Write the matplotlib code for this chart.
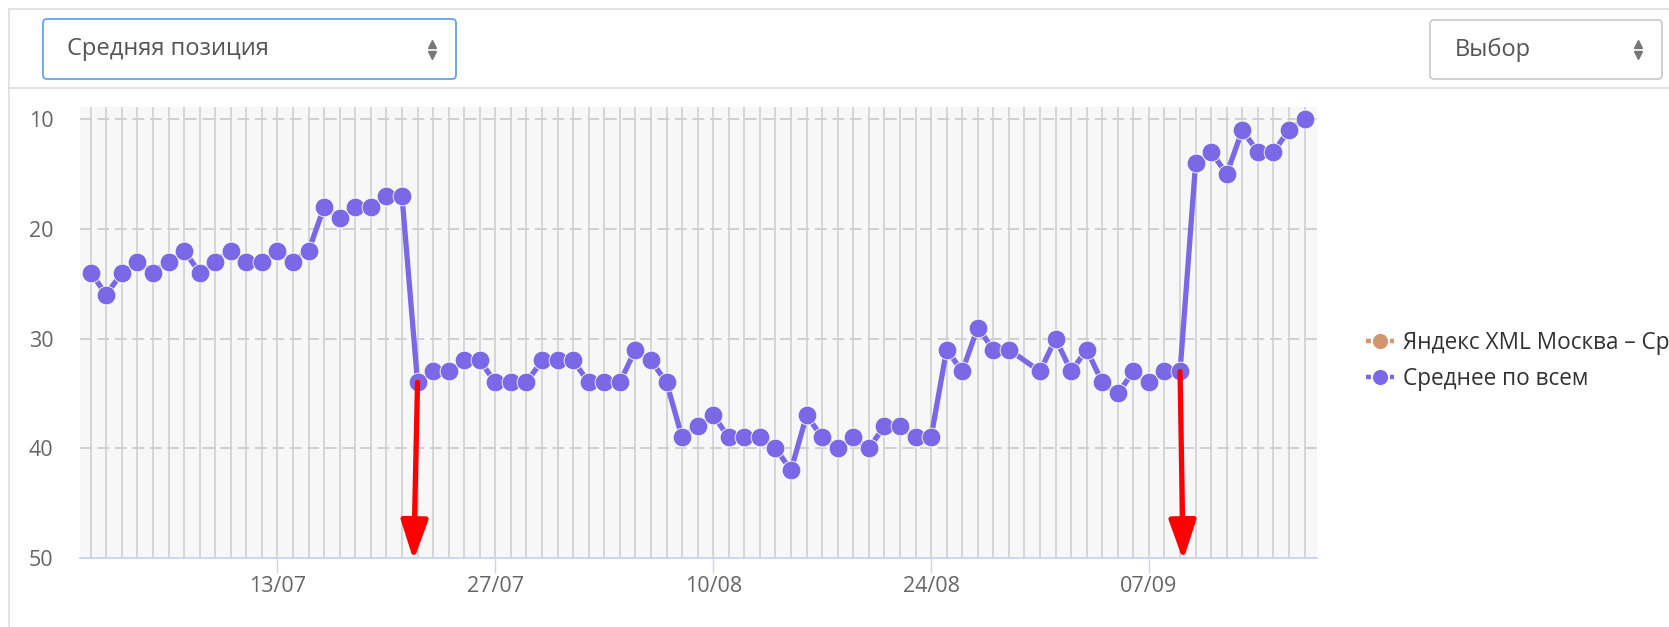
import matplotlib
matplotlib.use('Agg')
import matplotlib.pyplot as plt
import matplotlib.dates as mdates
from matplotlib.lines import Line2D
from matplotlib.patches import FancyBboxPatch
from matplotlib.transforms import IdentityTransform
from matplotlib.ticker import FixedLocator
import pandas as pd

plt.rcParams['font.family'] = ['Open Sans', 'DejaVu Sans']

W, H = 1669, 627

# данные: ежедневно 01/07 - 17/09, за 30/08 значения нет
dates = pd.date_range('2019-07-01', '2019-09-17', freq='D')
dates = dates[dates != pd.Timestamp('2019-08-30')]
avg_pos = [24, 26, 24, 23, 24, 23, 22, 24, 23, 22, 23, 23, 22, 23, 22,
           18, 19, 18, 18, 17, 17,
           34, 33, 33, 32, 32, 34, 34, 34, 32, 32, 32, 34, 34, 34, 31, 32, 34,
           39, 38, 37, 39, 39, 39, 40, 42, 37, 39, 40, 39, 40, 38, 38, 39, 39,
           31, 33, 29, 31, 31, 33, 30, 33, 31, 34, 35, 33, 34, 33, 33,
           14, 13, 15, 11, 13, 13, 11, 10]
tick_dates = pd.to_datetime(['2019-07-13', '2019-07-27', '2019-08-10',
                             '2019-08-24', '2019-09-07'])
y_ticks = [10, 20, 30, 40, 50]
# подпись первой серии в оригинале обрезана краем окна
series_names = ['Яндекс XML Москва – Ср', 'Среднее по всем']
series_colors = ['#d39470', '#7b68e6']
arrow_dates = pd.to_datetime(['2019-07-22', '2019-09-09'])
arrow_shift = [-0.25, 0.2]

fig = plt.figure(figsize=(W / 100, H / 100), dpi=100)
fig.patch.set_facecolor('white')

# рамка панели и шапка
px = IdentityTransform()
for xs, ys in [([9, W], [H - 9, H - 9]), ([9, 9], [0, H - 9]), ([9, W], [H - 88, H - 88])]:
    fig.add_artist(Line2D(xs, ys, transform=px, color='#dddddd', lw=1.2))


def dropdown(x0, y0, x1, y1, ec, label, tx, ax_x):
    fig.add_artist(FancyBboxPatch((x0, H - y1), x1 - x0, y1 - y0,
                                  boxstyle='round,pad=0,rounding_size=4',
                                  transform=px, fc='white', ec=ec, lw=1.3))
    fig.text(tx / W, 1 - (y0 + y1) / 2 / H, label, fontsize=17, color='#555555',
             va='center', ha='left')
    fig.add_artist(Line2D([ax_x], [H - 44], transform=px, marker='^', ms=5.5,
                          color='#777777', lw=0))
    fig.add_artist(Line2D([ax_x], [H - 55], transform=px, marker='v', ms=5.5,
                          color='#777777', lw=0))


dropdown(43, 19, 456, 79, '#66a3e8', 'Средняя позиция', 67, 432)
dropdown(1430, 20, 1662, 79, '#cccccc', 'Выбор', 1455, 1638)

ax = fig.add_axes([80 / W, 1 - 558 / H, (1317 - 80) / W, (558 - 107) / H])
ax.set_facecolor('#f7f7f7')

d0 = mdates.date2num(dates[0])
ax.set_xlim(d0 - 0.69, d0 + 78.8)
ax.set_ylim(50, 8.9)

ax.plot([], [], color=series_colors[0], lw=3, marker='o', ms=13.5, mec='white', mew=0.6)
ax.plot(dates, avg_pos, color=series_colors[1], lw=3.8, marker='o', ms=13.5,
        mfc=series_colors[1], mec='white', mew=0.6, zorder=3, clip_on=False)

for d, s in zip(arrow_dates, arrow_shift):
    v = avg_pos[list(dates).index(d)]
    x = mdates.date2num(d)
    ax.annotate('', xy=(x + s, 50.2), xytext=(x, v), annotation_clip=False,
                arrowprops=dict(arrowstyle='-|>,head_length=1.6,head_width=0.55',
                                mutation_scale=15, color='#ff0000', lw=3.8,
                                shrinkA=0, shrinkB=0), zorder=4)

ax.xaxis.set_major_locator(FixedLocator(mdates.date2num(tick_dates)))
ax.xaxis.set_minor_locator(mdates.DayLocator())
ax.xaxis.set_major_formatter(mdates.DateFormatter('%d/%m'))
ax.set_yticks(y_ticks)

ax.set_axisbelow(True)
ax.grid(True, which='both', axis='x', color='#d6d6d6', lw=1.4)
ax.grid(True, axis='y', color='#cfcfcf', lw=1.4, ls=(0, (6, 3)))

ax.tick_params(axis='x', which='minor', length=0)
ax.tick_params(axis='x', which='major', length=10.8, width=1, color='#ccd6eb',
               labelsize=15.5, labelcolor='#666666', pad=2)
ax.tick_params(axis='y', length=0, labelsize=15.5, labelcolor='#666666', pad=19)

for side in ['left', 'right', 'top']:
    ax.spines[side].set_visible(False)
ax.spines['bottom'].set_color('#ccd6eb')
ax.spines['bottom'].set_linewidth(1.3)

handles = [Line2D([], [], color=c, lw=3.2, ls=(0, (1.1, 0.7)), marker='o', ms=11.5,
                  mec='white', mew=0.6)
           for c in series_colors]
fig.legend(handles, series_names, loc='center left', bbox_to_anchor=(1366 / W, 1 - 361 / H),
           frameon=False, fontsize=16.3, labelcolor='#333333', handlelength=1.25,
           handletextpad=0.4, labelspacing=0.55, borderpad=0, borderaxespad=0)

fig.savefig('out.png', dpi=100)
